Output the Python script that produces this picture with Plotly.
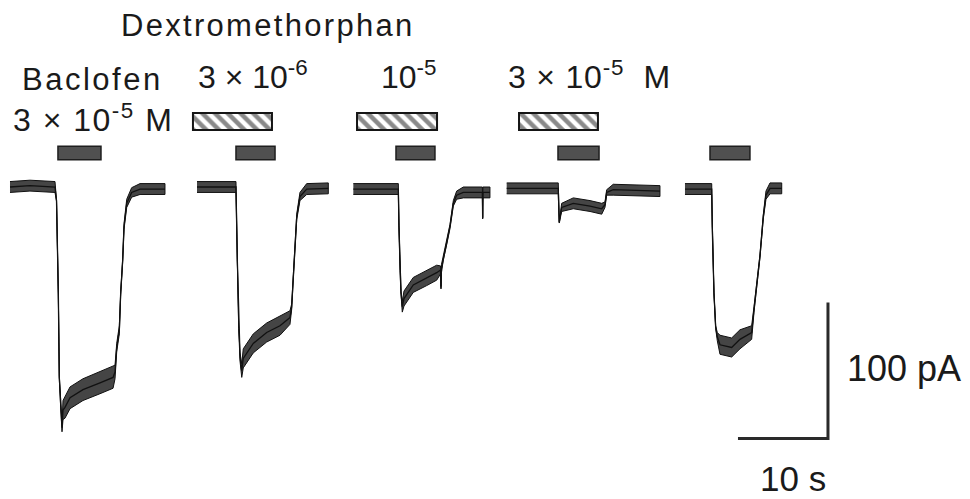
import plotly.graph_objects as go

# ---------------- data (time in s, current in pA) ----------------
# Sweep 1: Baclofen 3e-5 M alone
t1 = [1.11, 3.33, 6.11, 6.28, 6.48, 6.59, 6.74, 6.89, 7.00, 7.22, 7.78, 9.22, 11.11, 12.56, 12.78, 12.97, 13.26, 13.41, 13.63, 13.78, 14.08, 14.63, 15.56, 18.33]
i1 = [0, 1, 0, -10, -78, -140, -159, -177, -164, -162, -155, -149, -144, -140, -136, -118, -105, -78, -54, -29, -12, -4, -1.5, -1.5]
n1 = [4, 4, 4, 0.5, 0.5, 1, 3, 3, 7, 8, 8, 8, 8, 8, 5, 3, 3, 1, 1, 2, 3, 3.5, 4, 4]

# Sweep 2: + Dextromethorphan 3e-6 M
t2 = [21.89, 26.22, 26.37, 26.52, 26.67, 26.86, 27.03, 28.14, 29.63, 31.11, 32.22, 32.41, 32.59, 32.78, 32.97, 33.33, 34.08, 36.48]
i2 = [0, 0, -54, -103, -125, -135, -126, -115, -107, -102, -96, -88, -66, -41, -22, -7, -1.5, -1]
n2 = [4, 4, 0.5, 1, 3, 5, 7, 7, 7, 7, 5, 2, 1, 1, 2, 3, 4, 4]

# Sweep 3: + Dextromethorphan 1e-5 M
t3 = [39.26, 44.26, 44.33, 44.44, 44.56, 44.70, 44.89, 45.92, 47.41, 48.52, 48.95, 49.00, 49.05, 49.26, 49.63, 50.00, 50.37, 50.74, 51.48, 53.60, 53.63, 53.66, 54.44]
i3 = [-1.5, -1.5, -29, -61, -78, -88, -82, -72, -67, -63, -61, -74, -60, -52, -41, -29, -12, -6, -4, -4, -23, -4, -4]
n3 = [4, 4, 0.5, 0.5, 1, 4, 5.5, 5.5, 5.5, 5.5, 3, 1, 3, 1.5, 1.5, 1.5, 2, 3, 4, 4, 0.5, 4, 4]

# Sweep 4: + Dextromethorphan 3e-5 M
t4 = [56.30, 62.03, 62.14, 62.41, 63.70, 65.56, 66.86, 67.22, 67.41, 68.14, 73.33]
i4 = [-1, -1, -26, -15, -12, -14, -16, -13, -4, -2, -3]
n4 = [4, 4, 0.5, 3, 4, 4, 4, 2, 2, 4, 4]

# Sweep 5: Baclofen washout
t5 = [76.11, 79.08, 79.14, 79.33, 79.52, 79.70, 80.00, 80.74, 81.30, 82.22, 83.52, 83.78, 84.08, 84.44, 84.81, 85.11, 85.56, 86.86]
i5 = [-1.5, -1.5, -29, -78, -103, -110, -116, -117, -118, -112, -107, -90, -71, -51, -22, -6, -1, -1]
n5 = [4, 4, 0.5, 0.5, 1, 3, 7, 7, 7, 7, 5, 2, 1, 1, 1.5, 3, 4, 4]

sweeps = [(t1, i1, n1), (t2, i2, n2), (t3, i3, n3), (t4, i4, n4), (t5, i5, n5)]

# Application bars (start s, end s)
baclofen_start = [6.44, 26.22, 44.00, 62.00, 78.89]
baclofen_end = [11.22, 30.56, 48.33, 66.56, 83.33]
dxm_start = [21.44, 39.67, 57.67]
dxm_end = [30.22, 48.56, 66.44]

# Scale bars
scale_t = 10   # s
scale_i = 100  # pA

FONT = "Liberation Sans, Arial, sans-serif"

fig = go.Figure()

for t, i, n in sweeps:
    up = [a + b for a, b in zip(i, n)]
    lo = [a - b for a, b in zip(i, n)]
    fig.add_trace(go.Scatter(
        x=t + t[::-1], y=up + lo[::-1], mode="lines", fill="toself",
        fillcolor="#454545", line=dict(color="#111111", width=1),
        hoverinfo="skip", showlegend=False))
    fig.add_trace(go.Scatter(
        x=t, y=i, mode="lines", line=dict(color="#111111", width=1.3),
        hoverinfo="skip", showlegend=False))

# Baclofen bars (solid)
fig.add_trace(go.Bar(
    orientation="h",
    y=[25] * len(baclofen_start),
    x=[e - s for s, e in zip(baclofen_start, baclofen_end)],
    base=baclofen_start, width=[10] * len(baclofen_start),
    marker=dict(color="#505050", line=dict(color="#1e1e1e", width=1.5)),
    hoverinfo="skip", showlegend=False))

# Dextromethorphan bars (hatched)
fig.add_trace(go.Bar(
    orientation="h",
    y=[48.2] * len(dxm_start),
    x=[e - s for s, e in zip(dxm_start, dxm_end)],
    base=dxm_start, width=[12.5] * len(dxm_start),
    marker=dict(color="white", line=dict(color="#151515", width=2),
                pattern=dict(shape="\\", fgcolor="#151515", bgcolor="white",
                             size=9, solidity=0.5)),
    hoverinfo="skip", showlegend=False))

# Scale bars
corner_t, corner_i = 92.0, -185.0
fig.add_trace(go.Scatter(
    x=[corner_t - scale_t, corner_t, corner_t],
    y=[corner_i, corner_i, corner_i + scale_i],
    mode="lines", line=dict(color="#2a2a2a", width=3),
    hoverinfo="skip", showlegend=False))


def label(text, x, y, size=32, xanchor="center", spacing=0):
    if spacing:
        text = '<span style="letter-spacing:%spx">%s</span>' % (spacing, text)
    fig.add_annotation(x=x, y=y, xref="x", yref="y", text=text, showarrow=False,
                       xanchor=xanchor, yanchor="middle",
                       font=dict(family=FONT, size=size, color="#1a1a1a"))


label("Dextromethorphan", 29.78, 118.4, size=31, spacing=2.3)
label("Baclofen", 10.33, 79.4, size=31, spacing=2.5)
label("3 × 10<sup>-5</sup> M", 10.33, 50.4, size=32, spacing=1.5)
label("3 × 10<sup>-6</sup>", 28.06, 82.0, size=32)
label("10<sup>-5</sup>", 45.44, 82.0, size=32)
label("3 × 10<sup>-5</sup>  M", 65.5, 82.0, size=32, spacing=0.8)
label("100 pA", 93.9, -133.1, size=36, xanchor="left")
label("10 s", 88.1, -214.5, size=35)

fig.update_layout(
    width=970, height=499,
    margin=dict(l=0, r=0, t=0, b=0),
    paper_bgcolor="white", plot_bgcolor="white",
    barmode="overlay",
    xaxis=dict(range=[0, 107.78], visible=False, fixedrange=True),
    yaxis=dict(range=[-229.41, 137.5], visible=False, fixedrange=True),
    showlegend=False,
)

fig.write_html("out.html")
